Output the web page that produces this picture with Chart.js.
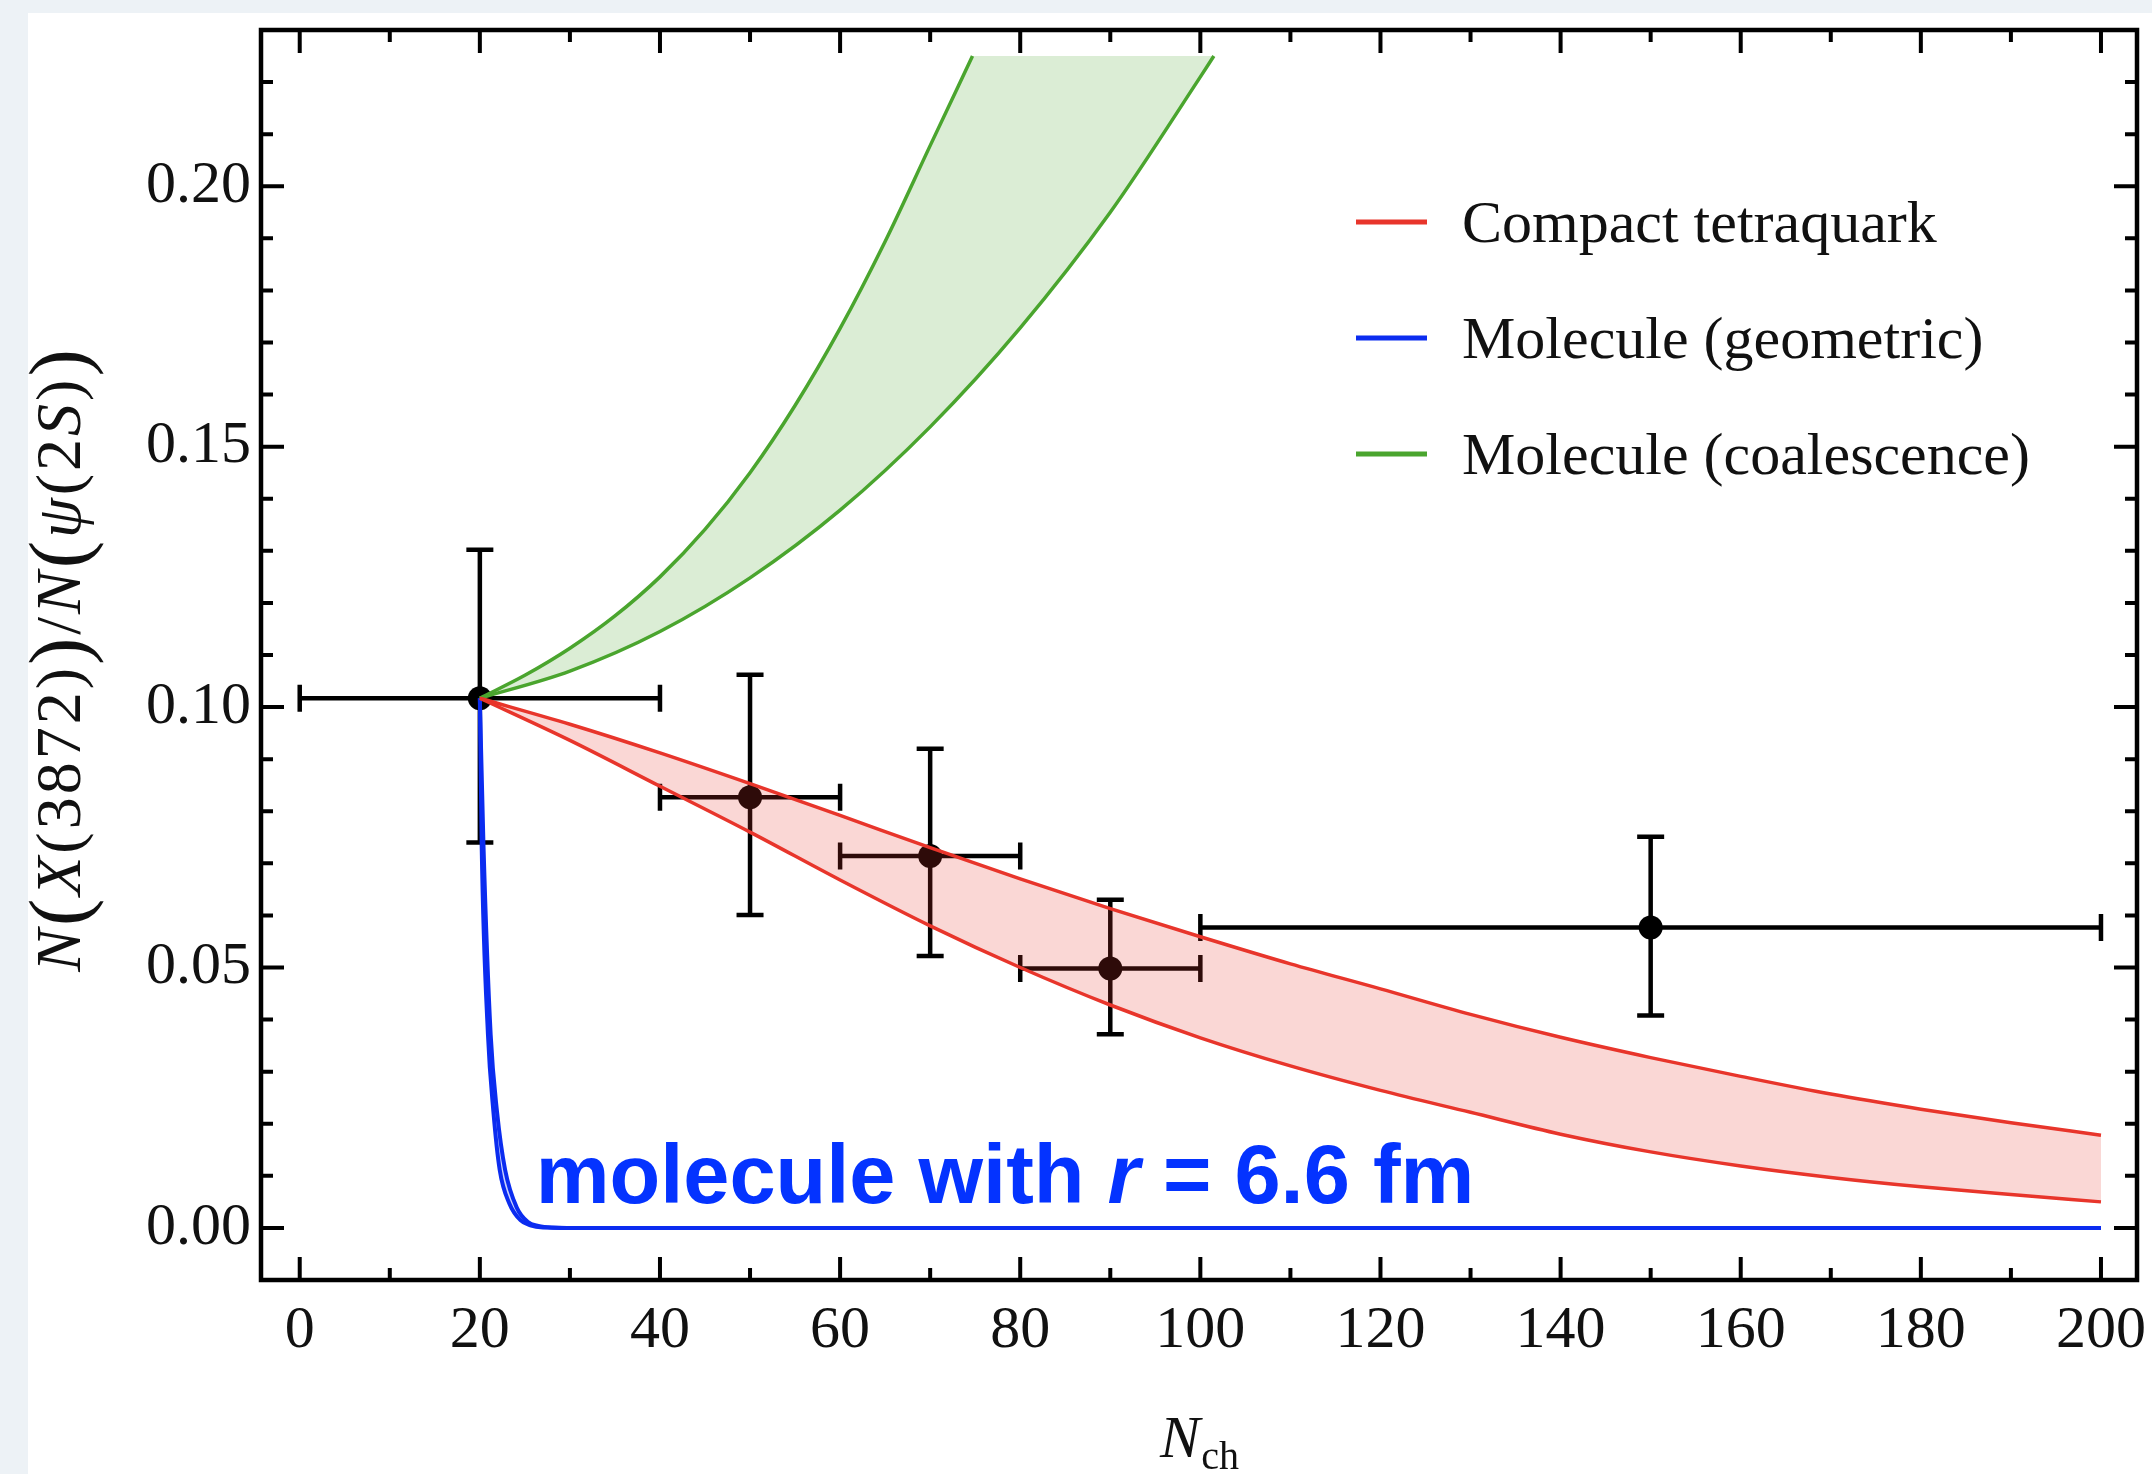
<!DOCTYPE html>
<html>
<head>
<meta charset="utf-8">
<title>X(3872) / psi(2S) vs multiplicity</title>
<script src="https://cdn.jsdelivr.net/npm/chart.js@4.4.1/dist/chart.umd.min.js"></script>
<style>
  html, body { margin: 0; padding: 0; background: #edf2f6; overflow: hidden; }
  #card { position: absolute; left: 28px; top: 13px; width: 2124px; height: 1461px; background: #fff; }
  #wrap { position: absolute; left: 0; top: 0; width: 2152px; height: 1474px; }
</style>
</head>
<body>
<div id="card"></div>
<div id="wrap"><canvas id="ratioChart" width="2152" height="1474"></canvas></div>
<script>
// measured ratio in multiplicity bins
const binCentre = [20, 50, 70, 90, 150];
const binLow    = [0, 40, 60, 80, 100];
const binHigh   = [40, 60, 80, 100, 200];
const ratio     = [0.1017, 0.0827, 0.0714, 0.0498, 0.0577];
const ratioUp   = [0.1302, 0.1062, 0.0920, 0.0630, 0.0751];
const ratioDown = [0.0740, 0.0601, 0.0522, 0.0372, 0.0408];

// compact tetraquark band
const tetraX     = [20, 30, 40, 50, 60, 70, 80, 90, 100, 110, 120, 130, 140, 150, 160, 170, 180, 190, 200];
const tetraUpper = [0.1017, 0.0967, 0.0912, 0.0853, 0.0792, 0.0730, 0.0670, 0.0613, 0.0559, 0.0507, 0.0459,
                    0.0410, 0.0366, 0.0327, 0.0291, 0.0257, 0.0228, 0.0202, 0.0178];
const tetraLower = [0.1017, 0.0936, 0.0848, 0.0760, 0.0668, 0.0580, 0.0500, 0.0428, 0.0365, 0.0311, 0.0264,
                    0.0222, 0.0180, 0.0146, 0.0119, 0.0097, 0.0079, 0.0064, 0.0050];

// coalescence band, both edges end where the plot range cuts them
const coalUpperX = [20, 25, 30, 35, 40, 45, 50, 55, 60, 65, 70, 74.7];
const coalUpperY = [0.1017, 0.1061, 0.1113, 0.1175, 0.1250, 0.1341, 0.1450, 0.1579, 0.1727, 0.1894, 0.2078, 0.2250];
const coalLowerX = [20, 30, 40, 50, 60, 70, 80, 90, 100, 101.5];
const coalLowerY = [0.1017, 0.1069, 0.1145, 0.1248, 0.1378, 0.1538, 0.1728, 0.1950, 0.2210, 0.2250];
const coalCut = 0.2250;

// geometric molecule band
const geoOuterX = [20, 20.4, 21.2, 21.9, 22.8, 24.1, 25.3, 26.5, 28, 32, 200];
const geoOuterY = [0.1017, 0.0736, 0.0371, 0.0224, 0.0112, 0.0039, 0.0012, 0.0004, 0.0001, 0, 0];
const geoInnerX = [20, 20.2, 20.9, 21.5, 22.2, 23.3, 24.5, 25.6, 27, 32, 200];
const geoInnerY = [0.1017, 0.0736, 0.0371, 0.0224, 0.0112, 0.0046, 0.0015, 0.0005, 0.0001, 0, 0];

const legendLabels = ['Compact tetraquark', 'Molecule (geometric)', 'Molecule (coalescence)'];

const RED = '#e8352b', BLUE = '#0b2cf0', GREEN = '#4aa52e';
const SERIF = '"Liberation Serif", "Times New Roman", serif';
const SANS = '"Liberation Sans", Arial, sans-serif';

const isMultiple = (v, step) => Math.abs(v / step - Math.round(v / step)) < 1e-6;
const toPoints = (xs, ys) => xs.map((x, i) => ({ x: x, y: ys[i] }));

// error bars under the bands, ticks / frame / texts on top
const paperStyle = {
  id: 'paperStyle',
  beforeDatasetsDraw(chart) {
    const { ctx, scales: { x, y } } = chart;
    const cap = 13.5;
    ctx.save();
    ctx.strokeStyle = '#000';
    ctx.lineWidth = 4.5;
    binCentre.forEach((c, i) => {
      const px = x.getPixelForValue(c), py = y.getPixelForValue(ratio[i]);
      const x0 = x.getPixelForValue(binLow[i]), x1 = x.getPixelForValue(binHigh[i]);
      const y0 = y.getPixelForValue(ratioUp[i]), y1 = y.getPixelForValue(ratioDown[i]);
      ctx.beginPath();
      ctx.moveTo(x0, py); ctx.lineTo(x1, py);
      ctx.moveTo(px, y0); ctx.lineTo(px, y1);
      ctx.moveTo(x0, py - cap); ctx.lineTo(x0, py + cap);
      ctx.moveTo(x1, py - cap); ctx.lineTo(x1, py + cap);
      ctx.moveTo(px - cap, y0); ctx.lineTo(px + cap, y0);
      ctx.moveTo(px - cap, y1); ctx.lineTo(px + cap, y1);
      ctx.stroke();
    });
    ctx.restore();
  },
  afterDraw(chart) {
    const { ctx, chartArea: a, scales: { x, y } } = chart;
    ctx.save();
    ctx.strokeStyle = '#000';

    // inward tick marks on all four sides
    ctx.lineWidth = 4;
    ctx.beginPath();
    x.ticks.forEach(t => {
      const px = x.getPixelForValue(t.value);
      const len = isMultiple(t.value, 20) ? 23 : 12;
      ctx.moveTo(px, a.bottom); ctx.lineTo(px, a.bottom - len);
      ctx.moveTo(px, a.top); ctx.lineTo(px, a.top + len);
    });
    y.ticks.forEach(t => {
      const py = y.getPixelForValue(t.value);
      const len = isMultiple(t.value, 0.05) ? 23 : 12;
      ctx.moveTo(a.left, py); ctx.lineTo(a.left + len, py);
      ctx.moveTo(a.right, py); ctx.lineTo(a.right - len, py);
    });
    ctx.stroke();

    ctx.lineWidth = 4.5;
    ctx.strokeRect(a.left, a.top, a.right - a.left, a.bottom - a.top);

    // legend
    const colors = [RED, BLUE, GREEN];
    ctx.font = '60px ' + SERIF;
    ctx.fillStyle = '#111';
    ctx.textAlign = 'left';
    ctx.textBaseline = 'alphabetic';
    legendLabels.forEach((lab, i) => {
      const ly = a.top + 192 + i * 116;
      ctx.strokeStyle = colors[i];
      ctx.lineWidth = 5;
      ctx.beginPath();
      ctx.moveTo(a.left + 1095, ly); ctx.lineTo(a.left + 1166, ly);
      ctx.stroke();
      ctx.fillText(lab, a.left + 1201, ly + 20);
    });

    // x title: N_ch
    ctx.fillStyle = '#111';
    ctx.font = 'italic 60px ' + SERIF;
    const wN = ctx.measureText('N').width;
    ctx.font = '40px ' + SERIF;
    const wCh = ctx.measureText('ch').width;
    const cx = (a.left + a.right) / 2 - (wN + wCh) / 2;
    ctx.font = 'italic 60px ' + SERIF;
    ctx.fillText('N', cx, 1457);
    ctx.font = '40px ' + SERIF;
    ctx.fillText('ch', cx + wN + 1, 1469);

    // y title: N(X(3872))/N(psi(2S)), rotated
    const parts = [
      ['N', 'italic ', 64], ['(', '', 82], ['X', 'italic ', 64], ['(3872)', '', 64], [')', '', 82],
      ['/', '', 64], ['N', 'italic ', 64], ['(', '', 82], ['\u03C8', 'italic ', 64], ['(2', '', 64],
      ['S', 'italic ', 64], [')', '', 64], [')', '', 82]
    ];
    ctx.letterSpacing = '3px';
    let total = 0;
    const widths = parts.map(p => {
      ctx.font = p[1] + p[2] + 'px ' + SERIF;
      const w = ctx.measureText(p[0]).width;
      total += w;
      return w;
    });
    ctx.translate(80, (a.top + a.bottom) / 2 + 4);
    ctx.rotate(-Math.PI / 2);
    let tx = -total / 2;
    parts.forEach((p, i) => {
      ctx.font = p[1] + p[2] + 'px ' + SERIF;
      ctx.fillText(p[0], tx, p[2] > 64 ? 6 : 0);
      tx += widths[i];
    });
    ctx.setTransform(1, 0, 0, 1, 0, 0);
    ctx.letterSpacing = '0px';

    // annotation
    const ax = x.getPixelForValue(26.2), ay = y.getPixelForValue(0.0047);
    ctx.fillStyle = '#0433ff';
    const seg = [['molecule with ', 'bold '], ['r', 'italic bold '], [' = 6.6 fm', 'bold ']];
    let sx = ax;
    seg.forEach(s => {
      ctx.font = s[1] + '83px ' + SANS;
      ctx.fillText(s[0], sx, ay);
      sx += ctx.measureText(s[0]).width;
    });
    ctx.restore();
  }
};

const bandLine = (label, xs, ys, color, width) => ({
  type: 'line',
  label: label,
  data: toPoints(xs, ys),
  borderColor: color,
  borderWidth: width,
  backgroundColor: 'transparent',
  fill: false,
  pointRadius: 0,
  cubicInterpolationMode: 'monotone',
  order: 1
});

// invisible edge that carries a band fill down to another dataset
const bandFill = (label, xs, ys, target, fillColor) => ({
  type: 'line',
  label: label,
  data: toPoints(xs, ys),
  borderWidth: 0,
  borderColor: 'transparent',
  backgroundColor: fillColor,
  fill: target,
  pointRadius: 0,
  cubicInterpolationMode: 'monotone',
  order: 2
});

new Chart(document.getElementById('ratioChart'), {
  type: 'line',
  data: {
    datasets: [
      {
        type: 'scatter',
        label: 'data',
        data: toPoints(binCentre, ratio),
        pointRadius: 12,
        pointBackgroundColor: '#000',
        pointBorderColor: '#000',
        pointBorderWidth: 0,
        showLine: false,
        order: 10
      },
      bandFill('tetra fill', tetraX, tetraUpper, 2, 'rgba(232,53,43,0.2)'),
      bandLine('tetra lower', tetraX, tetraLower, RED, 3.5),
      bandLine('tetra upper', tetraX, tetraUpper, RED, 3.5),
      Object.assign(
        bandFill('coal fill', coalUpperX.concat([coalLowerX[coalLowerX.length - 1]]),
                 coalUpperY.concat([coalCut]), 5, 'rgba(74,165,46,0.2)'),
        { cubicInterpolationMode: 'default', tension: 0 }),
      bandLine('coal lower', coalLowerX, coalLowerY, GREEN, 3.5),
      bandLine('coal upper', coalUpperX, coalUpperY, GREEN, 3.5),
      bandFill('geo fill', geoOuterX, geoOuterY, 8, 'rgba(11,44,240,0.22)'),
      bandLine('geo inner', geoInnerX, geoInnerY, BLUE, 4),
      bandLine('geo outer', geoOuterX, geoOuterY, BLUE, 4)
    ]
  },
  options: {
    responsive: false,
    animation: false,
    devicePixelRatio: 1,
    events: [],
    layout: { padding: { left: 0, top: 30, right: 15, bottom: 0 } },
    plugins: { legend: { display: false }, tooltip: { enabled: false } },
    scales: {
      x: {
        type: 'linear',
        min: -4.3,
        max: 204,
        grid: { display: false, drawTicks: false },
        border: { display: false },
        afterFit: s => { s.height = 194; s.paddingLeft = 0; s.paddingRight = 0; },
        ticks: {
          stepSize: 10,
          maxTicksLimit: 1000,
          includeBounds: false,
          autoSkip: false,
          maxRotation: 0,
          padding: 21,
          color: '#111',
          font: { family: SERIF, size: 60, lineHeight: 1 },
          callback: v => isMultiple(v, 20) ? String(Math.round(v)) : ''
        }
      },
      y: {
        type: 'linear',
        min: -0.01,
        max: 0.23,
        grid: { display: false, drawTicks: false },
        border: { display: false },
        afterFit: s => { s.width = 261; s.paddingTop = 0; s.paddingBottom = 0; },
        ticks: {
          stepSize: 0.01,
          maxTicksLimit: 1000,
          includeBounds: false,
          autoSkip: false,
          padding: 10,
          color: '#111',
          font: { family: SERIF, size: 60, lineHeight: 1 },
          callback: v => isMultiple(v, 0.05) ? v.toFixed(2) : ''
        }
      }
    }
  },
  plugins: [paperStyle]
});
</script>
</body>
</html>
